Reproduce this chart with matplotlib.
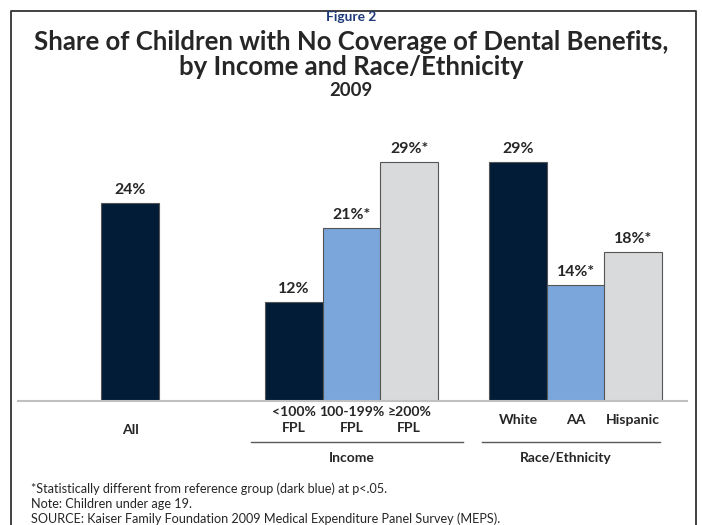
import matplotlib
matplotlib.use("Agg")
import matplotlib.pyplot as plt
from matplotlib.lines import Line2D

# ---------------- data ----------------
categories = ["All", "<100%\nFPL", "100-199%\nFPL", "\u2265200%\nFPL", "White", "AA", "Hispanic"]
values = [24, 12, 21, 29, 29, 14, 18]
value_labels = ["24%", "12%", "21%*", "29%*", "29%", "14%*", "18%*"]
groups = ["Income", "Race/Ethnicity"]
title_top = "Figure 2"
title_lines = ["Share of Children with No Coverage of Dental Benefits,",
               "by Income and Race/Ethnicity", "2009"]
notes = ["*Statistically different from reference group (dark blue) at p<.05.",
         "Note: Children under age 19.",
         "SOURCE: Kaiser Family Foundation 2009 Medical Expenditure Panel Survey (MEPS)."]

# ---------------- style ----------------
NAVY = "#021c38"
BLUE = "#7aa6db"
GRAY = "#d9dadc"
colors = [NAVY, NAVY, BLUE, GRAY, NAVY, BLUE, GRAY]
TXT = "#262626"
FONT = "Lato"

W, H = 702, 525
fig = plt.figure(figsize=(W / 100, H / 100), dpi=100)
fig.patch.set_facecolor("white")

def fx(x):
    return x / W

def fy(y):
    return 1 - y / H

base_px = 400.5
ppp = 8.23
ytop = 30
ax_left, ax_right = 18, 687
ax = fig.add_axes([fx(ax_left), fy(base_px), (ax_right - ax_left) / W, ytop * ppp / H])
unit = 57.7
positions = [0, 2.84, 3.84, 4.84, 6.73, 7.73, 8.72]
ax.set_xlim((ax_left - 130) / unit, (ax_right - 130) / unit)
ax.set_ylim(0, ytop)

ax.bar(positions, values, width=1.0, color=colors, edgecolor="#555555", linewidth=0.8, zorder=2)
for s in ["top", "right", "left"]:
    ax.spines[s].set_visible(False)
ax.spines["bottom"].set_color("#c0c0c0")
ax.spines["bottom"].set_linewidth(1.5)
ax.spines["bottom"].set_zorder(3)
ax.set_xticks([])
ax.set_yticks([])
ax.patch.set_alpha(0)

val_objs = []
for p, v, lab in zip(positions, values, value_labels):
    val_objs.append(ax.annotate(lab, xy=(p, v), xytext=(0, 9.4), textcoords="offset points",
                                ha="center", va="center", fontsize=10.5, fontweight="bold",
                                color=TXT, family=FONT))

cat_objs = []
for p, c in zip(positions, categories):
    if c == "All":
        off = -(430 - base_px) * 0.72
    else:
        off = -(419.5 - base_px) * 0.72
    cat_objs.append(ax.annotate(c, xy=(p, 0), xycoords=("data", "axes fraction"),
                                xytext=(0, off), textcoords="offset points",
                                ha="center", va="center", fontsize=8.3, fontweight="bold",
                                color=TXT, family=FONT, linespacing=1.4))

grp_objs = []
for (x0, x1, xc), g in zip([(251, 463, 352), (482, 660, 566)], groups):
    fig.add_artist(Line2D([fx(x0), fx(x1)], [fy(442), fy(442)], color="#595959", lw=1.0))
    grp_objs.append(fig.text(fx(xc), fy(457.5), g, ha="center", va="center", fontsize=8.3,
                             fontweight="bold", color=TXT, family=FONT))

fig.add_artist(Line2D([fx(10.5), fx(10.5), fx(696), fx(696)],
                      [fy(540), fy(10.5), fy(10.5), fy(540)], color="#333333", lw=1.3))

t0 = fig.text(fx(351), fy(17), title_top, ha="center", va="center", fontsize=7.5,
              fontweight="bold", color="#1f3a78", family=FONT)
t1 = fig.text(fx(351), fy(42), title_lines[0], ha="center", va="center", fontsize=15,
              fontweight="bold", color=TXT, family=FONT)
t2 = fig.text(fx(351), fy(67), title_lines[1], ha="center", va="center", fontsize=15,
              fontweight="bold", color=TXT, family=FONT)
t3 = fig.text(fx(351), fy(90), title_lines[2], ha="center", va="center", fontsize=10.5,
              fontweight="bold", color=TXT, family=FONT)

n_objs = []
for y, n in zip([489, 504, 518.5], notes):
    n_objs.append(fig.text(fx(31), fy(y), n, ha="left", va="center", fontsize=7.3,
                           color=TXT, family=FONT))

fig.canvas.draw()
r = fig.canvas.get_renderer()

def fitsize(t, target):
    w = t.get_window_extent(r).width
    return t.get_fontsize() * target / w

s = fitsize(t1, 637)
t1.set_fontsize(s)
t2.set_fontsize(s)
t0.set_fontsize(fitsize(t0, 50))
t3.set_fontsize(fitsize(t3, 43))
s = fitsize(val_objs[0], 31.5)
for t in val_objs:
    t.set_fontsize(s)
s = fitsize(cat_objs[-1], 54)
for t in cat_objs:
    t.set_fontsize(s)
s = fitsize(grp_objs[1], 92)
for t in grp_objs:
    t.set_fontsize(s)
s = fitsize(n_objs[0], 355)
for t in n_objs:
    t.set_fontsize(s)

fig.savefig("out.png", dpi=100, facecolor="white")
